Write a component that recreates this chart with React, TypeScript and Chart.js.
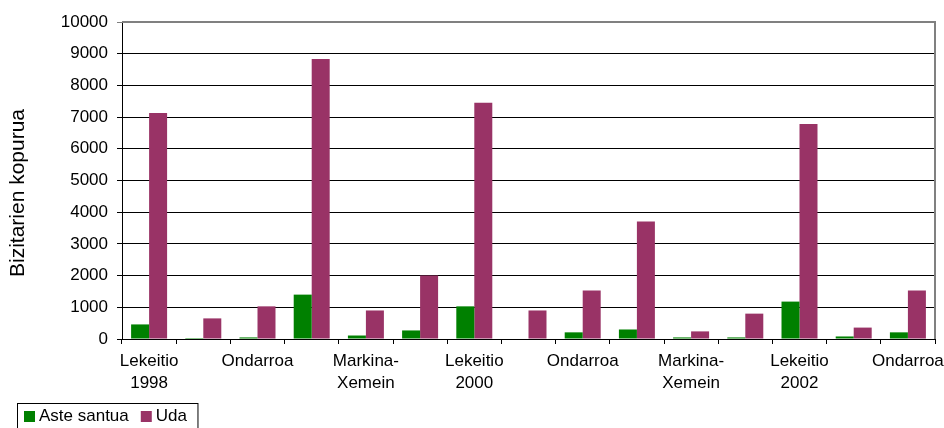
import React, { useEffect, useRef } from "react";
import { Chart, registerables } from "chart.js";

Chart.register(...registerables);

const categories: (string | string[])[] = [
  ["Lekeitio", "1998"], "", "Ondarroa", "", ["Markina-", "Xemein"], "",
  ["Lekeitio", "2000"], "", "Ondarroa", "", ["Markina-", "Xemein"], "",
  ["Lekeitio", "2002"], "", "Ondarroa",
];
const seriesNames = ["Aste santua", "Uda"];
const asteSantua = [460, 30, 50, 1400, 110, 270, 1030, 0, 210, 300, 50, 50, 1180, 80, 210];
const uda = [7130, 650, 1030, 8830, 900, 2000, 7450, 900, 1530, 3710, 240, 800, 6780, 360, 1530];
const yMin = 0;
const yMax = 10000;
const yStep = 1000;
const yTitle = "Bizitarien kopurua";

const colors = ["#008000", "#993366"];
const FONT = '"Liberation Sans", Arial, sans-serif';

const decorPlugin = {
  id: "decor",
  afterDraw(chart: any) {
    const ctx: CanvasRenderingContext2D = chart.ctx;
    const ca = chart.chartArea;
    ctx.save();
    // plot border (top & right)
    ctx.strokeStyle = "#808080";
    ctx.lineWidth = 2;
    ctx.beginPath();
    ctx.moveTo(ca.left, ca.top);
    ctx.lineTo(ca.right, ca.top);
    ctx.lineTo(ca.right, ca.bottom);
    ctx.stroke();
    ctx.restore();

    // y title
    ctx.save();
    ctx.translate(18, 193);
    ctx.rotate(-Math.PI / 2);
    ctx.font = `21px ${FONT}`;
    ctx.fillStyle = "#000";
    ctx.textAlign = "center";
    ctx.textBaseline = "middle";
    ctx.fillText(yTitle, 0, 0);
    ctx.restore();

    // legend
    ctx.save();
    ctx.font = `17px ${FONT}`;
    ctx.textBaseline = "alphabetic";
    ctx.textAlign = "left";
    let x = 24;
    const boxY = 411;
    const items = chart.data.datasets.map((d: any) => ({ label: d.label, color: d.backgroundColor }));
    const startX = 17.5;
    for (const it of items) {
      ctx.fillStyle = it.color;
      ctx.fillRect(x, boxY, 11, 11);
      ctx.fillStyle = "#000";
      ctx.fillText(it.label, x + 15, 421);
      x += 15 + ctx.measureText(it.label).width + 12;
    }
    const endX = x - 12 + 11;
    ctx.strokeStyle = "#000";
    ctx.lineWidth = 1;
    ctx.strokeRect(startX, 403.5, endX - startX, 40);
    ctx.restore();
  },
};

export default function App() {
  const ref = useRef<HTMLCanvasElement>(null);
  useEffect(() => {
    if (!ref.current) return;
    Chart.defaults.font.family = FONT;
    const chart = new Chart(ref.current, {
      type: "bar",
      data: {
        labels: categories,
        datasets: [
          { label: seriesNames[0], data: asteSantua, backgroundColor: colors[0], borderWidth: 0 },
          { label: seriesNames[1], data: uda, backgroundColor: colors[1], borderWidth: 0 },
        ],
      },
      options: {
        responsive: false,
        animation: false,
        devicePixelRatio: 1,
        layout: { padding: { top: 22, right: 9, left: 0, bottom: 0 } },
        datasets: { bar: { categoryPercentage: 0.664, barPercentage: 1 } },
        plugins: { legend: { display: false }, tooltip: { enabled: false }, title: { display: false } },
        scales: {
          x: {
            type: "category",
            grid: { offset: true, drawOnChartArea: false, drawTicks: true, tickLength: 5, color: "#000" },
            border: { display: true, color: "#000", width: 1 },
            ticks: {
              autoSkip: false,
              maxRotation: 0,
              minRotation: 0,
              padding: 7,
              color: "#000",
              font: { size: 17, lineHeight: 1.25, family: FONT },
            },
            afterFit(scale: any) {
              scale.height = 101;
              scale.paddingLeft = 0;
              scale.paddingRight = 0;
            },
          },
          y: {
            min: yMin,
            max: yMax,
            grid: {
              color: (c: any) => (c.tick && c.tick.value === yMax ? "#808080" : "#000"),
              tickLength: 5,
              drawTicks: true,
            },
            border: { display: true, color: "#000", width: 1 },
            ticks: {
              stepSize: yStep,
              padding: 9,
              color: "#000",
              font: { size: 17, family: FONT },
              callback: (v: any) => String(v),
            },
            afterFit(scale: any) {
              scale.width = 122;
              scale.paddingTop = 0;
              scale.paddingBottom = 0;
            },
          },
        },
      },
      plugins: [decorPlugin],
    } as any);
    return () => chart.destroy();
  }, []);
  return (
    <div style={{ position: "fixed", left: 0, top: 0, width: 944, height: 428, overflow: "hidden", background: "#fff" }}>
      <canvas ref={ref} width={944} height={440} style={{ width: 944, height: 440, display: "block" }} />
    </div>
  );
}
